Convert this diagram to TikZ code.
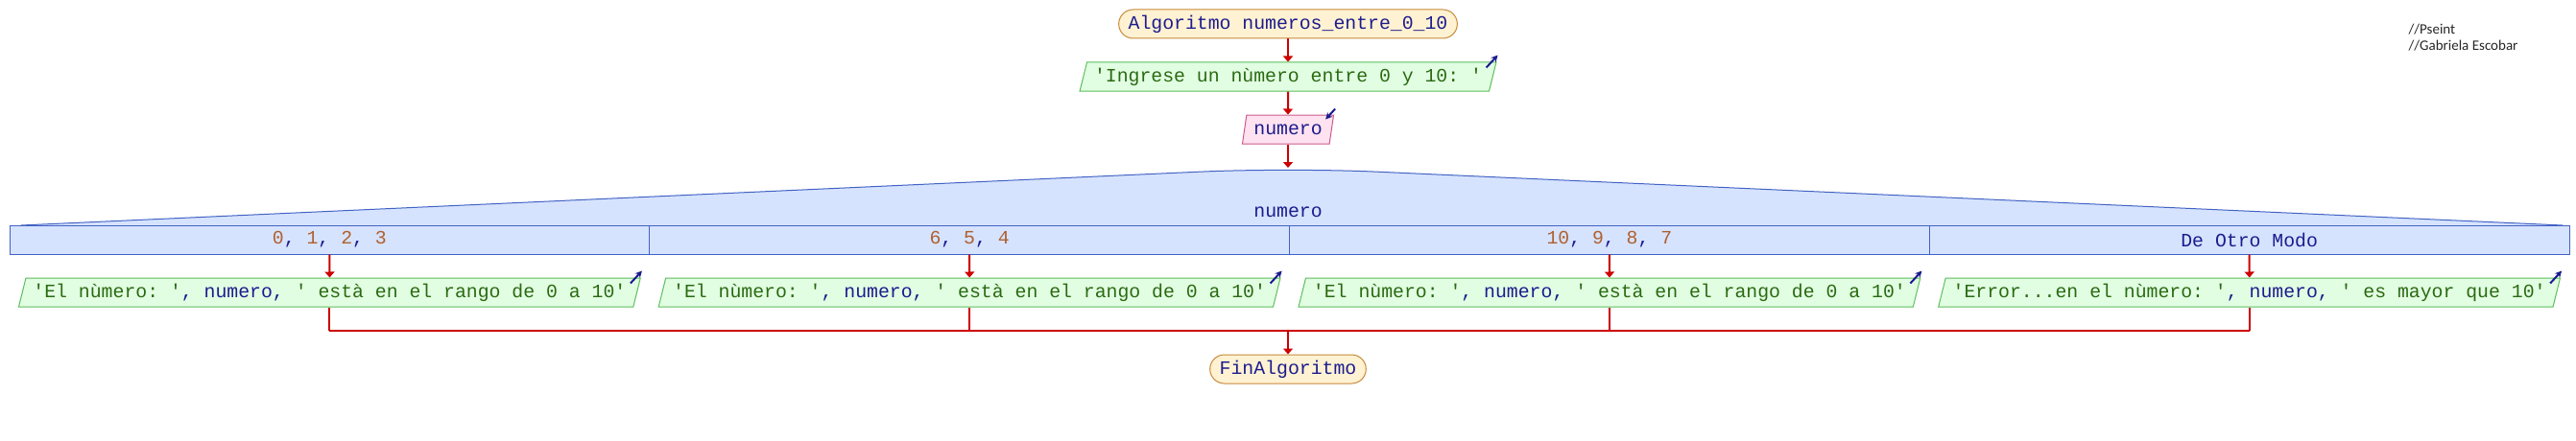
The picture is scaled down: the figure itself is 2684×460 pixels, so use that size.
\documentclass[tikz,border=0pt]{standalone}
\usepackage{fontspec}
\usetikzlibrary{shapes.geometric,arrows.meta}
\newfontfamily\codefont{Liberation Mono}
\newfontfamily\notefont{Carlito}

\definecolor{codenavy}{HTML}{1C1C8E}
\definecolor{strgreen}{HTML}{2A6A12}
\definecolor{numbrown}{HTML}{B0602E}
\definecolor{endfill}{HTML}{FFF2D2}
\definecolor{enddraw}{HTML}{C8883A}
\definecolor{outfill}{HTML}{E2FEE2}
\definecolor{outdraw}{HTML}{5CBE5C}
\definecolor{infill}{HTML}{FFE2F0}
\definecolor{indraw}{HTML}{CC5A8C}
\definecolor{casefill}{HTML}{D6E3FE}
\definecolor{casedraw}{HTML}{4262C4}
\definecolor{flowred}{HTML}{CC0000}

\newcommand{\sq}{\textquotesingle}
\newcommand{\strtxt}[1]{\textcolor{strgreen}{\sq#1\sq}}
\newcommand{\vartxt}[1]{\textcolor{codenavy}{#1}}
\newcommand{\numtxt}[1]{\textcolor{numbrown}{#1}}

\begin{document}
\begin{tikzpicture}[x=1pt,y=-1pt,
	every node/.style={font=\codefont\fontsize{19.8}{22}\selectfont\frenchspacing,text=codenavy},
	startend/.style={draw=enddraw,fill=endfill,line width=1pt,rounded corners=15pt,minimum height=30pt,inner xsep=10pt,inner ysep=0pt},
	outbox/.style={trapezium,trapezium left angle=68,trapezium right angle=112,trapezium stretches body,draw=outdraw,fill=outfill,line width=1pt,minimum height=30pt,inner xsep=7.5pt,inner ysep=0pt},
	inbox/.style={outbox,draw=indraw,fill=infill},
	casebox/.style={draw=casedraw,fill=casefill,line width=1pt,minimum width=666.75pt,minimum height=30pt,inner sep=0pt},
	flow/.style={draw=flowred,line width=2pt,-{Triangle[width=10pt,length=6pt]}},
	joinline/.style={draw=flowred,line width=2pt},
	ioarrow/.style={draw=codenavy,line width=2pt,-{Stealth[length=7pt,width=7pt]}}]
	\useasboundingbox (0,0) rectangle (2684,460);

	% inicio, entrada
	\node[startend] (inicio) at (1342,25) {Algoritmo numeros\_entre\_0\_10};
	\node[outbox] (pedir) at (1342,80) {\strtxt{Ingrese un nùmero entre 0 y 10: }};
	\node[inbox] (leer) at (1342,135) {numero};
	\draw[flow] (inicio) -- (pedir);
	\draw[flow] (pedir) -- (leer);
	\draw[ioarrow] ([shift={(-11,6)}]pedir.top right corner) -- ([shift={(1,-7)}]pedir.top right corner);
	\draw[ioarrow] ([shift={(1,-6)}]leer.top right corner) -- ([shift={(-9,5)}]leer.top right corner);

	% segun
	\coordinate (cima) at (1342,175);
	\draw[draw=casedraw,fill=casefill,line width=1pt,rounded corners=90pt] (22,235) -- (cima) -- (2670,235);
	\node (variable) at (1342,221) {numero};
	\draw[flow] (leer) -- (cima);

	\foreach \i/\opcion in {1/{\numtxt{0}, \numtxt{1}, \numtxt{2}, \numtxt{3}},
			2/{\numtxt{6}, \numtxt{5}, \numtxt{4}},
			3/{\numtxt{10}, \numtxt{9}, \numtxt{8}, \numtxt{7}},
			4/{De Otro Modo}}
		\node[casebox] (caso\i) at ({10+(\i-0.5)*666.75},250) {\opcion};

	% salidas
	\node[outbox] (msg1) at (343.4,305) {\strtxt{El nùmero: }, \vartxt{numero}, \strtxt{ està en el rango de 0 a 10}};
	\node[outbox] (msg2) at (1010.1,305) {\strtxt{El nùmero: }, \vartxt{numero}, \strtxt{ està en el rango de 0 a 10}};
	\node[outbox] (msg3) at (1676.9,305) {\strtxt{El nùmero: }, \vartxt{numero}, \strtxt{ està en el rango de 0 a 10}};
	\node[outbox] (msg4) at (2343.6,305) {\strtxt{Error...en el nùmero: }, \vartxt{numero}, \strtxt{ es mayor que 10}};

	\node[startend] (fin) at (1342,385) {FinAlgoritmo};
	\coordinate (union) at (1342,345);

	\foreach \i in {1,...,4} {
		\draw[flow] (caso\i.south) -- (msg\i.north);
		\draw[joinline] (msg\i.south) -- (msg\i.south |- union);
		\draw[ioarrow] ([shift={(-11,6)}]msg\i.top right corner) -- ([shift={(1,-7)}]msg\i.top right corner);
	}
	\draw[joinline] (msg1.south |- union) -- (msg4.south |- union);
	\draw[flow] (union) -- (fin);

	% notas
	\node[font=\notefont\fontsize{15}{17}\selectfont,text=black!85,anchor=west,align=left] (nota) at (2506,39.5) {//Pseint\\//Gabriela Escobar};
\end{tikzpicture}
\end{document}
